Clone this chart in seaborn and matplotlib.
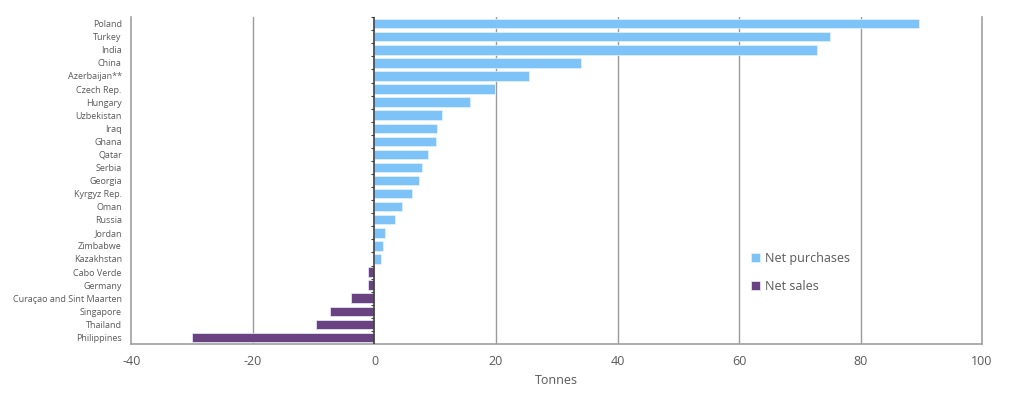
import numpy as np
import pandas as pd
import seaborn as sns
import matplotlib.pyplot as plt

countries = ['Poland', 'Turkey', 'India', 'China', 'Azerbaijan**', 'Czech Rep.', 'Hungary',
             'Uzbekistan', 'Iraq', 'Ghana', 'Qatar', 'Serbia', 'Georgia', 'Kyrgyz Rep.', 'Oman',
             'Russia', 'Jordan', 'Zimbabwe', 'Kazakhstan', 'Cabo Verde', 'Germany',
             'Curaçao and Sint Maarten', 'Singapore', 'Thailand', 'Philippines']
tonnes = [89.7, 75.0, 72.8, 34.0, 25.4, 19.8, 15.7, 11.1, 10.3, 10.1, 8.8, 7.8, 7.3, 6.1, 4.5,
          3.3, 1.8, 1.45, 1.1, -1.0, -1.1, -3.9, -7.3, -9.6, -30.1]
series_names = ['Net purchases', 'Net sales']
x_ticks = [-40, -20, 0, 20, 40, 60, 80, 100]

df = pd.DataFrame({'country': countries, 'tonnes': tonnes})
df['kind'] = np.where(df['tonnes'] >= 0, series_names[0], series_names[1])

sns.set_style('white')
plt.rcParams['font.family'] = ['Open Sans', 'DejaVu Sans']
text_col = '#595959'

fig = plt.figure(figsize=(10.24, 3.99), dpi=100)
ax = fig.add_axes([0.1284, 0.138, 0.8306, 0.819])

sns.barplot(data=df, y='country', x='tonnes', hue='kind', hue_order=series_names,
            palette=['#7dc3f8', '#6a4281'], saturation=1, dodge=False, width=0.72,
            edgecolor='#e6f2fc', linewidth=0.5, ax=ax)

ax.set_xlim(-40, 100)
ax.set_xticks(x_ticks)
ax.set_xticklabels([str(t) for t in x_ticks], fontsize=9, color=text_col)
ax.set_ylim(len(countries) - 0.5, -0.5)
ax.tick_params(axis='y', length=0, labelsize=6.5, labelcolor=text_col, pad=7)
ax.tick_params(axis='x', length=0, pad=8)

for t in x_ticks[1:-1]:
    if t != 0:
        ax.axvline(t, color='#9a9a9a', lw=1, zorder=0)
ax.axvline(0, color='#404040', lw=1.2, zorder=3)
# small tick marks along the zero line at category boundaries
ax.hlines(np.arange(-0.5, len(countries)), -0.5, 0, color='#404040', lw=0.8, zorder=3)

for side in ['left', 'right', 'bottom']:
    ax.spines[side].set_color('#a0a0a0')
    ax.spines[side].set_linewidth(1.2)
ax.spines['top'].set_visible(False)

ax.set_ylabel('')
ax.set_xlabel('Tonnes', fontsize=9, color=text_col, labelpad=4)

leg = ax.legend(loc='center left', bbox_to_anchor=(0.715, 0.22), frameon=False,
                fontsize=9, handlelength=0.7, handleheight=0.7, handletextpad=0.4,
                labelspacing=1.2, labelcolor=text_col)

plt.savefig('out.png', dpi=100)
